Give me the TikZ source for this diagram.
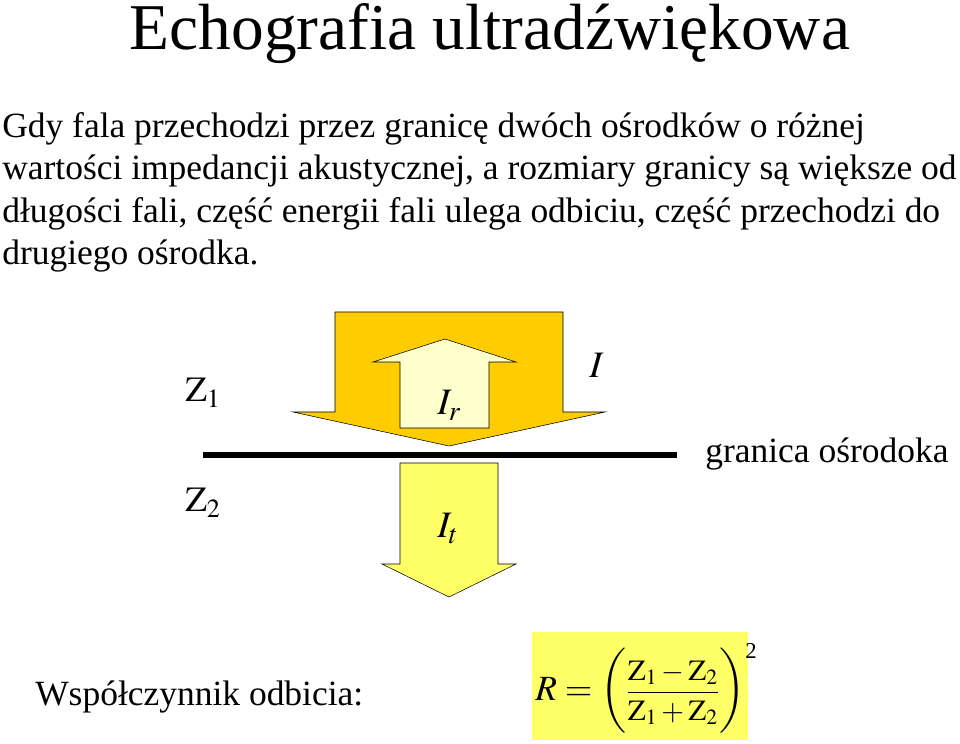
\documentclass[tikz,border=0pt]{standalone}
\usepackage{amsmath}
\usepackage{mathptmx}
\usepackage[no-math]{fontspec}
\setmainfont{Liberation Serif}
\definecolor{incident}{HTML}{FFCC00}
\definecolor{reflected}{HTML}{FFFFCC}
\definecolor{transmitted}{HTML}{FFFF66}
\tikzset{
  heading/.style={font=\fontsize{49}{54}\selectfont, anchor=base, inner sep=0pt},
  txt/.style={font=\fontsize{26.6}{30}\selectfont, anchor=base west, inner sep=0pt},
  sym/.style={font=\fontsize{28}{32}\selectfont, anchor=base west, inner sep=0pt},
}
\begin{document}
\begin{tikzpicture}[x=0.75pt, y=0.75pt]
        \useasboundingbox (0, 0) rectangle (960, 743);
        \node[heading] (title) at (490, 693) {Echografia ultradźwiękowa}; % title
        \node[txt] (line1) at (2, 605) {Gdy fala przechodzi przez granicę dwóch ośrodków o różnej};
        \node[txt] (line2) at (2, 563) {wartości impedancji akustycznej, a rozmiary granicy są większe od};
        \node[txt] (line3) at (2, 520) {długości fali, część energii fali ulega odbiciu, część przechodzi do};
        \node[txt] (line4) at (2, 478) {drugiego ośrodka.};
        \draw[fill=incident] (335, 431) -- (563, 431) -- (563, 331) -- (605, 331) -- (449, 297) -- (293, 331) -- (335, 331) -- cycle; % incident wave
        \draw[fill=reflected] (400, 315) -- (489, 315) -- (489, 381) -- (516, 381) -- (445, 404) -- (373, 381) -- (400, 381) -- cycle; % reflected wave
        \draw[line width=4.5pt] (203, 288) -- (677, 288); % boundary
        \draw[fill=transmitted] (400, 280) -- (498, 280) -- (498, 179) -- (516, 179) -- (449, 146) -- (382, 179) -- (400, 179) -- cycle; % transmitted wave
        \node[txt] (z1) at (185, 341) {$\mathrm{Z}_1$}; % upper medium
        \node[txt] (z2) at (185, 231) {$\mathrm{Z}_2$}; % lower medium
        \node[sym] (ir) at (437, 328) {$I_r$}; % reflected intensity
        \node[sym] (i) at (589, 365) {$I$}; % incident intensity
        \node[sym] (it) at (437, 205) {$I_t$}; % transmitted intensity
        \node[txt] (border) at (705, 280) {granica ośrodoka};
        \node[txt] (coef) at (35, 38) {Współczynnik odbicia:};
        \fill[transmitted] (532, 3) rectangle (748, 111); % formula background
        \node[txt] (formula) at (535, 43) {$R=\left(\vrule height 37pt depth 24pt width 0pt
          \text{\fontsize{22}{25}\selectfont$\dfrac{\mathrm{Z}_1-\mathrm{Z}_2}{\mathrm{Z}_1+\mathrm{Z}_2}$}\right)^{\text{\fontsize{17}{19}\selectfont 2}}$};
    \end{tikzpicture}
\end{document}
